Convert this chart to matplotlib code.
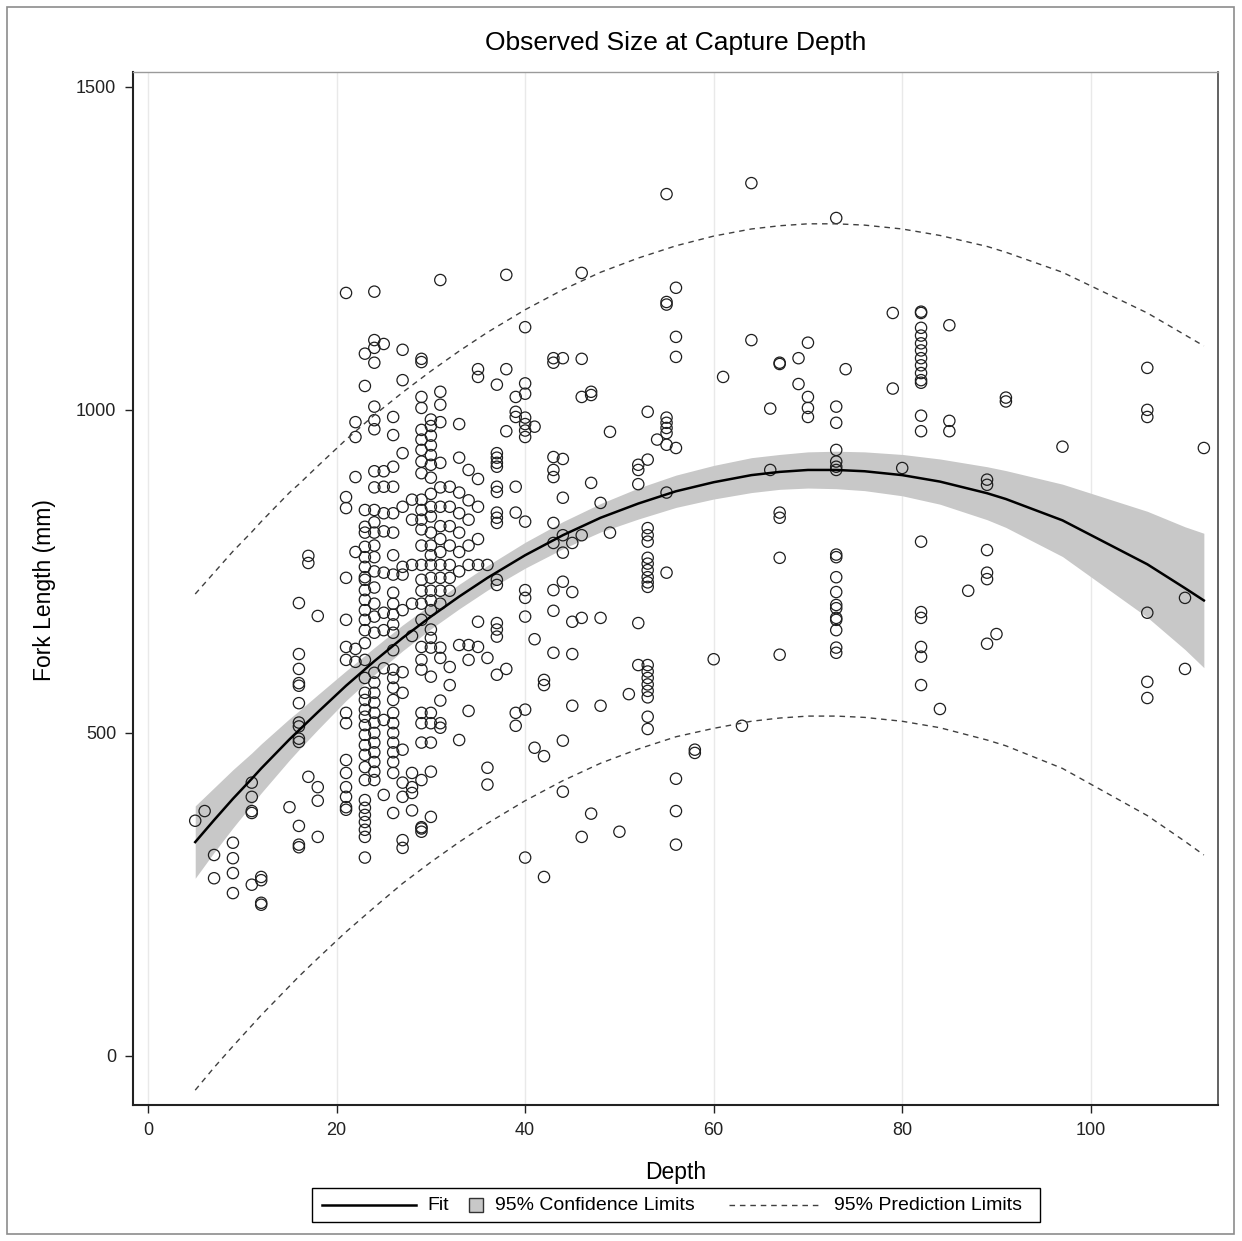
import matplotlib.pyplot as plt
from matplotlib.lines import Line2D
from matplotlib.patches import Rectangle

plt.rcParams['font.family'] = ['Liberation Sans', 'DejaVu Sans']

# observed fish: (capture depth, [fork lengths in mm])
obs_shallow = [
    (5, [364]), (6, [379]), (7, [311, 275]), (9, [330, 306, 283, 252]),
    (11, [423, 401, 379, 376, 265]), (12, [277, 272, 237, 234]), (15, [385]),
    (16, [701, 622, 599, 577, 573, 546, 516, 510, 491, 486, 356, 327, 323]),
    (17, [774, 763, 432]), (18, [681, 416, 395, 339]),
]
obs_mid = [
    (21, [1181, 865, 848, 740, 675, 633, 613, 531, 515, 458, 438, 416, 401, 385, 381]),
    (22, [981, 958, 896, 780, 630, 610]),
    (23, [1087, 1037, 845, 819, 810, 788, 772, 757, 741, 737, 721, 706, 690, 675, 659,
          639, 613, 585, 562, 551, 536, 525, 512, 497, 481, 466, 447, 427, 396, 384,
          373, 362, 350, 339, 307]),
    (24, [1183, 1108, 1096, 1073, 1005, 984, 970, 905, 880, 845, 826, 810, 790, 772,
          750, 725, 700, 680, 655, 593, 578, 562, 547, 531, 516, 500, 485, 470, 455,
          440, 427]),
    (25, [1102, 905, 881, 840, 812, 748, 686, 659, 600, 520, 404]),
    (26, [989, 961, 912, 881, 840, 810, 775, 745, 717, 700, 683, 668, 655, 628, 598,
          585, 570, 551, 531, 515, 500, 485, 470, 455, 438, 376]),
    (27, [1093, 1046, 933, 850, 757, 745, 690, 594, 562, 474, 423, 401, 334, 322]),
    (28, [861, 830, 760, 700, 650, 438, 416, 407, 380]),
    (29, [1079, 1074, 1020, 1003, 969, 954, 938, 920, 902, 861, 845, 830, 815, 790,
          760, 737, 720, 700, 675, 633, 613, 598, 531, 515, 485, 427, 354, 352, 347]),
    (30, [985, 975, 960, 945, 930, 915, 895, 870, 850, 835, 810, 790, 775, 760, 740,
          720, 705, 690, 660, 647, 632, 587, 531, 515, 485, 440, 370]),
    (31, [1201, 1028, 1008, 981, 918, 880, 850, 820, 800, 780, 760, 740, 720, 700,
          632, 616, 550, 515, 508]),
    (32, [881, 850, 820, 790, 760, 740, 720, 602, 574]),
    (33, [978, 926, 872, 840, 810, 780, 750, 636, 489]),
    (34, [907, 860, 830, 790, 760, 636, 613, 534]),
    (35, [1063, 1051, 893, 850, 800, 760, 672, 633]),
    (36, [760, 616, 446, 420]),
    (37, [1039, 933, 926, 918, 912, 881, 873, 841, 833, 825, 737, 729, 670, 660, 649, 590]),
    (38, [1209, 1063, 967, 599]),
    (39, [1020, 997, 989, 881, 841, 531, 511]),
    (40, [1128, 1041, 1025, 988, 978, 968, 958, 827, 721, 709, 680, 536, 307]),
]
obs_deep = [
    (41, [974, 645, 477]), (42, [582, 574, 464, 277]),
    (43, [1080, 1073, 927, 907, 896, 825, 794, 721, 689, 624]),
    (44, [1080, 924, 864, 806, 779, 734, 488, 409]),
    (45, [794, 718, 672, 622, 542]), (46, [1212, 1079, 1020, 806, 678, 339]),
    (47, [1028, 1023, 887, 375]), (48, [856, 678, 542]), (49, [966, 810]),
    (50, [347]), (51, [560]), (52, [915, 907, 885, 670, 605]),
    (53, [997, 923, 817, 806, 796, 771, 762, 752, 741, 733, 726, 605, 595, 585, 575,
          565, 555, 525, 506]),
    (54, [954]), (55, [1334, 1167, 1163, 988, 980, 972, 964, 946, 872, 748]),
    (56, [1189, 1113, 1082, 941, 429, 379, 327]), (58, [474, 469]), (60, [614]),
    (61, [1051]), (63, [511]), (64, [1351, 1108]), (66, [1002, 907]),
    (67, [1073, 1071, 841, 833, 771, 621]), (69, [1080, 1040]),
    (70, [1104, 1020, 1003, 989]),
    (73, [1297, 1005, 980, 938, 920, 912, 907, 776, 772, 741, 718, 698, 693, 678, 675,
          659, 632, 624]),
    (74, [1063]), (79, [1150, 1033]), (80, [910]),
    (82, [1152, 1150, 1127, 1115, 1103, 1092, 1080, 1069, 1057, 1046, 1042, 991, 967,
          796, 687, 678, 633, 618, 574]),
    (84, [537]), (85, [1131, 983, 967]), (87, [720]),
    (89, [892, 884, 783, 748, 738, 638]), (90, [653]), (91, [1019, 1013]),
    (97, [943]), (106, [1065, 1000, 989, 686, 579, 554]), (110, [709, 599]),
    (112, [941]),
]

# quadratic fit with confidence / prediction limits
fit_depth = [5, 7, 9, 11, 12, 15, 16, 18, 21, 24, 27, 30, 33, 36, 40, 44, 48, 52, 56,
             60, 64, 67, 70, 73, 76, 80, 84, 89, 91, 97, 106, 110, 112]
fit_len = [331, 365, 398, 429, 445, 490, 504, 532, 573, 611, 647, 680, 711, 740, 775, 806,
           833, 855, 874, 888, 899, 904, 907, 907, 905, 899, 889, 871, 862, 829, 761, 724, 705]
clm_lo = [275, 315, 353, 389, 407, 458, 474, 505, 550, 590, 627, 661, 692, 721, 755, 785,
          811, 831, 849, 862, 872, 877, 879, 878, 875, 867, 854, 830, 818, 773, 679, 629, 601]
clm_hi = [387, 415, 443, 469, 483, 522, 534, 559, 596, 632, 667, 699, 730, 759, 795, 827,
          855, 879, 899, 914, 926, 931, 935, 936, 935, 931, 924, 912, 906, 885, 843, 819, 809]
pred_lo = [-53, -18, 15, 47, 63, 108, 123, 151, 192, 230, 267, 300, 331, 360, 395, 426,
           453, 475, 494, 507, 518, 523, 526, 526, 524, 518, 508, 489, 480, 445, 372, 332, 311]
pred_hi = [715, 748, 781, 811, 827, 872, 885, 913, 954, 992, 1027, 1060, 1091, 1120, 1155,
           1186, 1213, 1235, 1254, 1269, 1280, 1285, 1288, 1288, 1286, 1280, 1270, 1253,
           1244, 1213, 1150, 1116, 1099]

depth = []
length = []
for d, vals in obs_shallow + obs_mid + obs_deep:
    for v in vals:
        depth.append(d)
        length.append(v)

W, H = 1242, 1241
fig = plt.figure(figsize=(W / 100, H / 100), dpi=100)


def px(x, y):
    return x / W, 1 - y / H


# outer border
fig.patches.append(Rectangle(px(7, 1234), 1227 / W, 1227 / H, transform=fig.transFigure,
                             fill=False, edgecolor='#8c8c8c', lw=1.2))

l, b = px(133, 1105)
r, t = px(1218, 72)
ax = fig.add_axes([l, b, r - l, t - b])

ax.fill_between(fit_depth, clm_lo, clm_hi, color='#c8c8c8', lw=0, zorder=1)
ax.scatter(depth, length, s=66, facecolors='none', edgecolors='#1e1e1e', linewidths=0.9, zorder=3)
ax.plot(fit_depth, fit_len, color='black', lw=1.8, zorder=4)
ax.plot(fit_depth, pred_lo, color='#404040', lw=1.0, dashes=(4, 3.5), zorder=4)
ax.plot(fit_depth, pred_hi, color='#404040', lw=1.0, dashes=(4, 3.5), zorder=4)

ax.set_xlim(-1.6, 113.5)
ax.set_ylim(-76, 1523)
ax.set_xticks([0, 20, 40, 60, 80, 100])
ax.set_yticks([0, 500, 1000, 1500])
ax.grid(axis='x', color='#e9e9e9', lw=1)
ax.set_axisbelow(True)
ax.tick_params(direction='out', length=6, width=1, labelsize=13, colors='#222222', pad=6)
for side in ['left', 'bottom']:
    ax.spines[side].set_color('#222222')
    ax.spines[side].set_linewidth(1.5)
ax.spines['right'].set_color('#555555')
ax.spines['right'].set_linewidth(1.3)
ax.spines['top'].set_color('#9a9a9a')
ax.spines['top'].set_linewidth(1.0)

fig.text(*px(676, 43), 'Observed Size at Capture Depth', fontsize=19, ha='center', va='center')
fig.text(*px(676, 1173), 'Depth', fontsize=16.5, ha='center', va='center')
fig.text(*px(45, 590), 'Fork Length (mm)', fontsize=16.5, ha='center', va='center', rotation=90)

# legend box drawn under the plot
x0, y0 = px(312, 1222)
fig.patches.append(Rectangle((x0, y0), 728 / W, 34 / H, transform=fig.transFigure,
                             fill=False, edgecolor='black', lw=1))
ly = px(0, 1205)[1]
fig.lines.append(Line2D([322 / W, 416 / W], [ly, ly], transform=fig.transFigure, color='black', lw=1.8))
fig.text(427 / W, ly, 'Fit', fontsize=14, ha='left', va='center')
sx, sy = px(469, 1212)
fig.patches.append(Rectangle((sx, sy), 14 / W, 14 / H, transform=fig.transFigure,
                             facecolor='#c8c8c8', edgecolor='#333333', lw=1))
fig.text(495 / W, ly, '95% Confidence Limits', fontsize=14, ha='left', va='center')
fig.lines.append(Line2D([729 / W, 822 / W], [ly, ly], transform=fig.transFigure, color='#404040',
                        lw=1.0, dashes=(4, 3.5)))
fig.text(834 / W, ly, '95% Prediction Limits', fontsize=14, ha='left', va='center')

fig.savefig('out.png', dpi=100)
